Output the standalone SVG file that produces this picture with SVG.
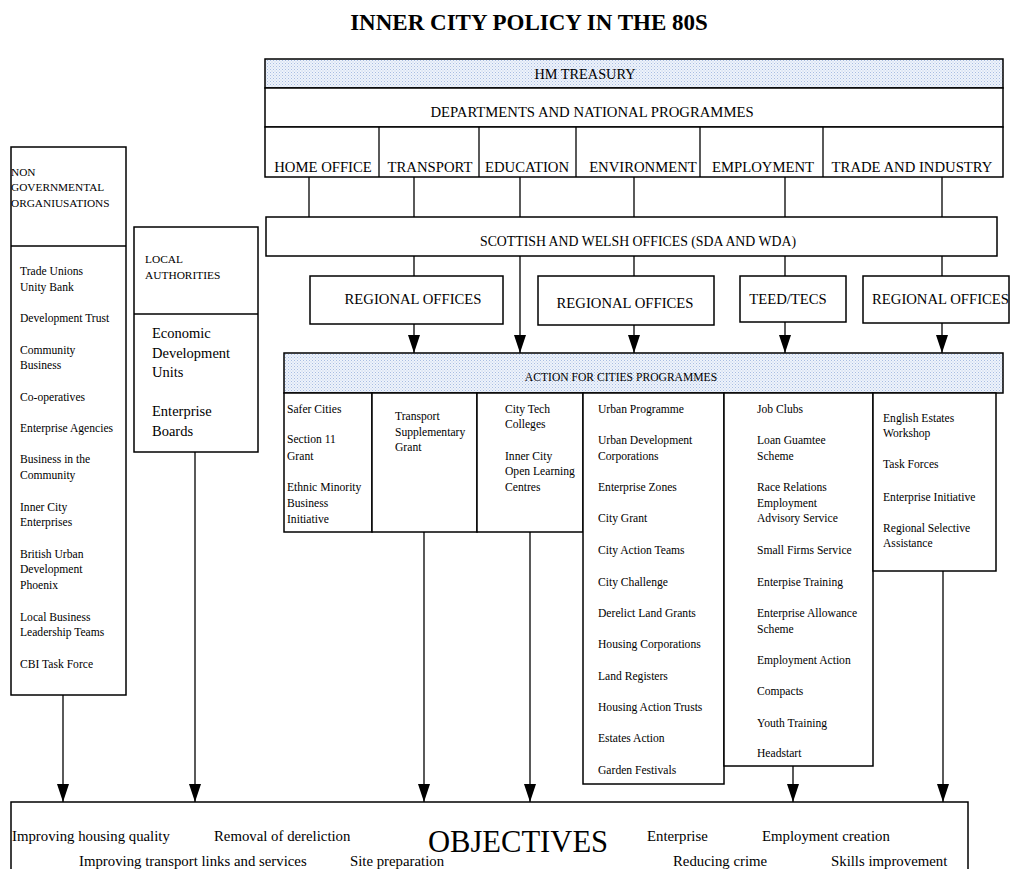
<svg xmlns="http://www.w3.org/2000/svg" width="1010" height="869" viewBox="0 0 1010 869">
<defs>
<pattern id="hatch" width="3" height="3" patternUnits="userSpaceOnUse"><rect width="3" height="3" fill="#eef3fb"/><rect width="1" height="1" fill="#a8bde2"/><rect x="1.5" y="1.5" width="1" height="1" fill="#bccbea"/></pattern>
<marker id="arr" viewBox="0 0 18 12" refX="18" refY="6" markerWidth="18" markerHeight="12" markerUnits="userSpaceOnUse" orient="auto"><path d="M0,0 L18,6 L0,12 z" fill="#000"/></marker>
</defs>
<style>
text{font-family:"Liberation Serif","Times New Roman",serif;fill:#000}
.box{fill:#fff;stroke:#000;stroke-width:1.5}
.hb{fill:url(#hatch);stroke:#000;stroke-width:1.5}
.ln{stroke:#000;stroke-width:1.3;fill:none}
.ar{stroke:#000;stroke-width:1.3;fill:none;marker-end:url(#arr)}
.dep{font-size:14.7px}
.it{font-size:11.6px}
.ob{font-size:14.8px}
.c{text-anchor:middle}
</style>
<rect width="1010" height="869" fill="#fff"/>
<text x="529" y="30" class="c" style="font-size:23px;font-weight:bold">INNER CITY POLICY IN THE 80S</text>

<g id="treasury"><rect class="hb" x="265" y="59" width="738" height="29"/><text class="c" x="585" y="79" style="font-size:14.3px">HM TREASURY</text></g>
<g id="departments"><rect class="box" x="265" y="88" width="738" height="39"/><text class="dep c" x="592" y="117">DEPARTMENTS  AND NATIONAL PROGRAMMES</text></g>
<g id="dept-row">
<rect class="box" x="265" y="127" width="738" height="50"/>
<line class="ln" x1="379" y1="127" x2="379" y2="177"/>
<line class="ln" x1="479" y1="127" x2="479" y2="177"/>
<line class="ln" x1="576" y1="127" x2="576" y2="177"/>
<line class="ln" x1="700" y1="127" x2="700" y2="177"/>
<line class="ln" x1="823" y1="127" x2="823" y2="177"/>
<text class="dep c" x="323" y="172">HOME OFFICE</text>
<text class="dep c" x="430" y="172">TRANSPORT</text>
<text class="dep c" x="527" y="172">EDUCATION</text>
<text class="dep c" x="643" y="172">ENVIRONMENT</text>
<text class="dep c" x="763" y="172">EMPLOYMENT</text>
<text class="dep c" x="912" y="172">TRADE AND INDUSTRY</text>
</g>
<g id="scottish"><rect class="box" x="266" y="217" width="731" height="39"/><text class="c" x="638" y="246" style="font-size:13.8px">SCOTTISH AND WELSH OFFICES  (SDA AND WDA)</text></g>
<g id="regional1"><rect class="box" x="310" y="276" width="193" height="48"/><text class="dep c" x="413" y="304">REGIONAL OFFICES</text></g>
<g id="regional2"><rect class="box" x="538" y="276" width="176" height="49"/><text class="dep c" x="625" y="308">REGIONAL OFFICES</text></g>
<g id="teed"><rect class="box" x="740" y="276" width="106" height="46"/><text class="dep c" x="788" y="304">TEED/TECS</text></g>
<g id="regional4"><rect class="box" x="863" y="276" width="146" height="47"/><text class="dep" x="872" y="304">REGIONAL OFFICES</text></g>

<g id="action"><rect class="hb" x="284" y="353" width="719" height="40"/><text class="c" x="621" y="381" style="font-size:11.6px">ACTION FOR CITIES PROGRAMMES</text></g>

<g id="col-home" class="it">
<rect class="box" x="284" y="393" width="88" height="139"/>
<text x="287" y="413">Safer Cities</text>
<text x="287" y="443">Section 11</text>
<text x="287" y="460">Grant</text>
<text x="287" y="491">Ethnic Minority</text>
<text x="287" y="507">Business</text>
<text x="287" y="523">Initiative</text>
</g>
<g id="col-transport" class="it">
<rect class="box" x="372" y="393" width="105" height="139"/>
<text x="395" y="420">Transport</text>
<text x="395" y="436">Supplementary</text>
<text x="395" y="451">Grant</text>
</g>
<g id="col-education" class="it">
<rect class="box" x="477" y="393" width="106" height="139"/>
<text x="505" y="413">City Tech</text>
<text x="505" y="428">Colleges</text>
<text x="505" y="460">Inner City</text>
<text x="505" y="475">Open Learning</text>
<text x="505" y="491">Centres</text>
</g>
<g id="col-environment" class="it">
<rect class="box" x="583" y="393" width="141" height="391"/>
<text x="598" y="413">Urban Programme</text>
<text x="598" y="444">Urban Development</text>
<text x="598" y="460">Corporations</text>
<text x="598" y="491">Enterprise Zones</text>
<text x="598" y="522">City Grant</text>
<text x="598" y="554">City Action Teams</text>
<text x="598" y="586">City Challenge</text>
<text x="598" y="617">Derelict Land Grants</text>
<text x="598" y="648">Housing Corporations</text>
<text x="598" y="680">Land Registers</text>
<text x="598" y="711">Housing Action Trusts</text>
<text x="598" y="742">Estates Action</text>
<text x="598" y="774">Garden Festivals</text>
</g>
<g id="col-employment" class="it">
<rect class="box" x="724" y="393" width="149" height="373"/>
<text x="757" y="413">Job Clubs</text>
<text x="757" y="444">Loan Guamtee</text>
<text x="757" y="460">Scheme</text>
<text x="757" y="491">Race Relations</text>
<text x="757" y="507">Employment</text>
<text x="757" y="522">Advisory Service</text>
<text x="757" y="554">Small Firms Service</text>
<text x="757" y="586">Enterpise Training</text>
<text x="757" y="617">Enterprise Allowance</text>
<text x="757" y="633">Scheme</text>
<text x="757" y="664">Employment Action</text>
<text x="757" y="695">Compacts</text>
<text x="757" y="727">Youth Training</text>
<text x="757" y="757">Headstart</text>
</g>
<g id="col-trade" class="it">
<rect class="box" x="873" y="393" width="123" height="178"/>
<text x="883" y="422">English Estates</text>
<text x="883" y="437">Workshop</text>
<text x="883" y="468">Task Forces</text>
<text x="883" y="501">Enterprise Initiative</text>
<text x="883" y="532">Regional Selective</text>
<text x="883" y="547">Assistance</text>
</g>

<g id="ngo" class="it">
<rect class="box" x="11" y="147" width="115" height="548"/>
<line class="ln" x1="11" y1="246" x2="126" y2="246"/>
<text x="11" y="176" style="font-size:11.3px">NON</text>
<text x="11" y="191" style="font-size:11.3px">GOVERNMENTAL</text>
<text x="11" y="207" style="font-size:11.3px">ORGANIUSATIONS</text>
<text x="20" y="275">Trade Unions</text>
<text x="20" y="291">Unity Bank</text>
<text x="20" y="322">Development Trust</text>
<text x="20" y="354">Community</text>
<text x="20" y="369">Business</text>
<text x="20" y="401">Co-operatives</text>
<text x="20" y="432">Enterprise Agencies</text>
<text x="20" y="463">Business in the</text>
<text x="20" y="479">Community</text>
<text x="20" y="511">Inner City</text>
<text x="20" y="526">Enterprises</text>
<text x="20" y="558">British Urban</text>
<text x="20" y="573">Development</text>
<text x="20" y="589">Phoenix</text>
<text x="20" y="621">Local Business</text>
<text x="20" y="636">Leadership Teams</text>
<text x="20" y="668">CBI Task Force</text>
</g>
<g id="local-authorities">
<rect class="box" x="134" y="227" width="124" height="225"/>
<line class="ln" x1="134" y1="314" x2="258" y2="314"/>
<text x="145" y="263" style="font-size:11.4px">LOCAL</text>
<text x="145" y="279" style="font-size:11.4px">AUTHORITIES</text>
<text x="152" y="338" style="font-size:14.5px">Economic</text>
<text x="152" y="357.5" style="font-size:14.5px">Development</text>
<text x="152" y="377" style="font-size:14.5px">Units</text>
<text x="152" y="416" style="font-size:14.5px">Enterprise</text>
<text x="152" y="435.5" style="font-size:14.5px">Boards</text>
</g>

<g id="objectives">
<rect class="box" x="11" y="802" width="957" height="80"/>
<text class="c" x="518" y="852" style="font-size:30.6px">OBJECTIVES</text>
<text class="ob" x="12" y="841">Improving housing quality</text>
<text class="ob" x="214" y="841">Removal of dereliction</text>
<text class="ob" x="647" y="841">Enterprise</text>
<text class="ob" x="762" y="841">Employment  creation</text>
<text class="ob" x="79" y="866">Improving transport links and services</text>
<text class="ob" x="350" y="866">Site preparation</text>
<text class="ob" x="673" y="866">Reducing crime</text>
<text class="ob" x="831" y="866">Skills improvement</text>
</g>

<g id="connectors">
<line class="ln" x1="309" y1="177" x2="309" y2="217"/>
<line class="ln" x1="414" y1="177" x2="414" y2="217"/>
<line class="ln" x1="520" y1="177" x2="520" y2="217"/>
<line class="ln" x1="634" y1="177" x2="634" y2="217"/>
<line class="ln" x1="785" y1="177" x2="785" y2="217"/>
<line class="ln" x1="942" y1="177" x2="942" y2="217"/>
<line class="ln" x1="414" y1="256" x2="414" y2="276"/>
<line class="ln" x1="634" y1="256" x2="634" y2="276"/>
<line class="ln" x1="785" y1="256" x2="785" y2="276"/>
<line class="ln" x1="942" y1="256" x2="942" y2="276"/>
<line class="ar" x1="414" y1="324" x2="414" y2="353"/>
<line class="ar" x1="520" y1="256" x2="520" y2="353"/>
<line class="ar" x1="634" y1="325" x2="634" y2="353"/>
<line class="ar" x1="785" y1="322" x2="785" y2="353"/>
<line class="ar" x1="942" y1="323" x2="942" y2="353"/>
<line class="ar" x1="63" y1="695" x2="63" y2="802"/>
<line class="ar" x1="195" y1="452" x2="195" y2="802"/>
<line class="ar" x1="424" y1="532" x2="424" y2="802"/>
<line class="ar" x1="530" y1="532" x2="530" y2="802"/>
<line class="ar" x1="793" y1="766" x2="793" y2="802"/>
<line class="ar" x1="943" y1="571" x2="943" y2="802"/>
</g>
</svg>
